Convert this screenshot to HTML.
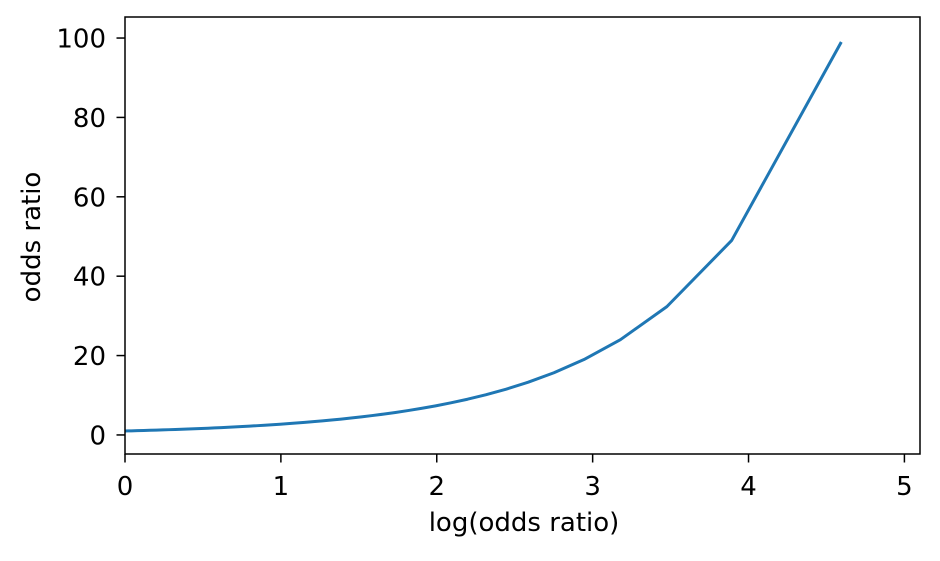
<!DOCTYPE html>
<html><head><meta charset="utf-8">
<style>
body{margin:0;background:#fff;}
svg text{font-family:"DejaVu Sans","Liberation Sans",sans-serif;fill:#000;}
</style></head>
<body>
<svg id="chart" width="940" height="556" xmlns="http://www.w3.org/2000/svg">
<rect width="940" height="556" fill="#fff"/>
<g id="ticks"></g>
<polyline id="line" fill="none" stroke="#1f77b4" stroke-width="3" stroke-linejoin="round"/>
<rect x="125" y="17" width="795" height="437" fill="none" stroke="#000" stroke-width="1.5"/>
<text x="524" y="531" font-size="26" text-anchor="middle">log(odds ratio)</text>
<text x="40" y="237" font-size="26" text-anchor="middle" transform="rotate(-90 40 237)">odds ratio</text>
</svg>
<script>
const oddsValues = [1,1.0408,1.0833,1.1277,1.1739,1.2222,1.2727,1.3256,1.381,1.439,1.5,1.5641,1.6316,1.7027,1.7778,1.8571,1.9412,2.0303,2.125,2.2258,2.3333,2.4483,2.5714,2.7037,2.8462,3,3.1667,3.3478,3.5455,3.7619,4,4.2632,4.5556,4.8824,5.25,5.6667,6.1429,6.6923,7.3333,8.0909,9,10.111,11.5,13.286,15.667,19,24,32.333,49,99];
const xTicks = [0,1,2,3,4,5];
const yTicks = [0,20,40,60,80,100];
const X0=125,X1=920,Y0=454,Y1=17;
const xMin=0,xMax=5.1,yMin=-4.8,yMax=105.3;
function sx(v){return X0+(v-xMin)/(xMax-xMin)*(X1-X0);}
function sy(v){return Y0-(v-yMin)/(yMax-yMin)*(Y0-Y1);}
const NS="http://www.w3.org/2000/svg";
const g=document.getElementById('ticks');
xTicks.forEach(t=>{
  const l=document.createElementNS(NS,'line');
  l.setAttribute('x1',sx(t));l.setAttribute('x2',sx(t));l.setAttribute('y1',Y0);l.setAttribute('y2',Y0+8.5);
  l.setAttribute('stroke','#000');l.setAttribute('stroke-width','1.5');
  
  
  g.appendChild(l);
  const tx=document.createElementNS(NS,'text');
  tx.setAttribute('x',sx(t));tx.setAttribute('y',Y0+41);tx.setAttribute('font-size','26');tx.setAttribute('text-anchor','middle');
  tx.textContent=t;
  
  
  g.appendChild(tx);
});
yTicks.forEach(t=>{
  const l=document.createElementNS(NS,'line');
  l.setAttribute('x1',X0-8.5);l.setAttribute('x2',X0);l.setAttribute('y1',sy(t));l.setAttribute('y2',sy(t));
  l.setAttribute('stroke','#000');l.setAttribute('stroke-width','1.5');
  
  
  g.appendChild(l);
  const tx=document.createElementNS(NS,'text');
  tx.setAttribute('x',X0-19);tx.setAttribute('y',sy(t)+9.5);tx.setAttribute('font-size','26');tx.setAttribute('text-anchor','end');
  tx.textContent=t;
  
  
  g.appendChild(tx);
});
document.getElementById('line').setAttribute('points',oddsValues.map(o=>sx(Math.log(o))+','+sy(o)).join(' '));
</script>
</body></html>
